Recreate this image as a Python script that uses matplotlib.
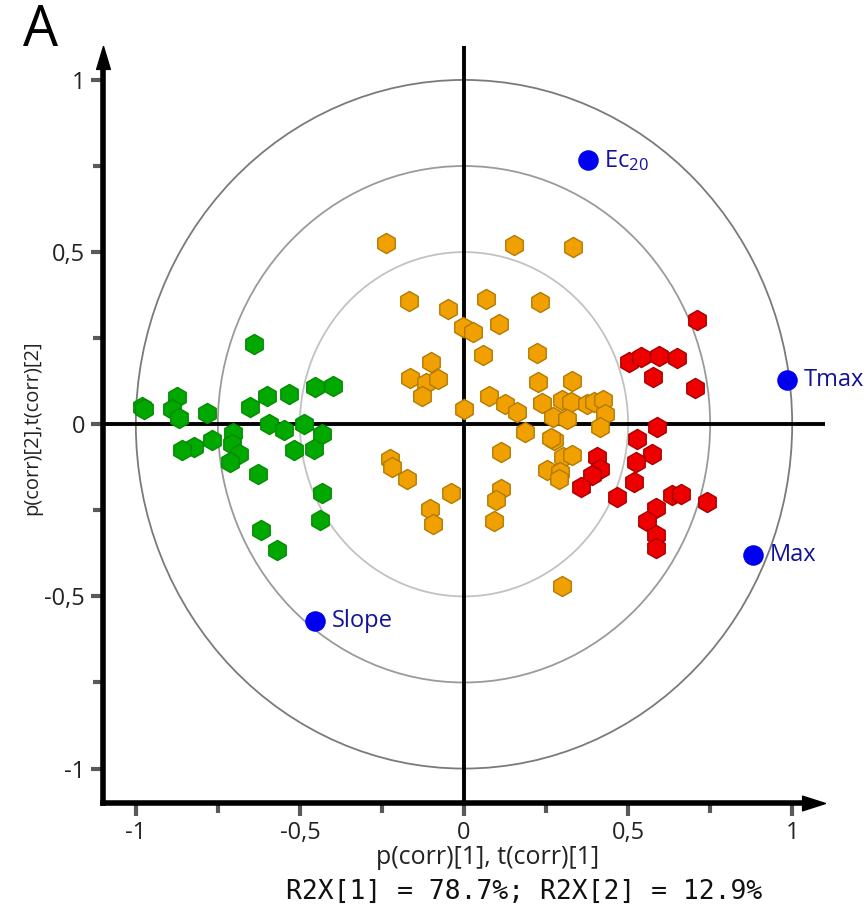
import matplotlib.pyplot as plt
from matplotlib.patches import Circle
from matplotlib.path import Path

plt.rcParams['font.family'] = ['Open Sans', 'DejaVu Sans']
plt.rcParams['mathtext.default'] = 'regular'

# scores / loadings
green_x = [-0.981, -0.974, -0.874, -0.889, -0.869, -0.783, -0.639, -0.653, -0.599, -0.534,
           -0.453, -0.399, -0.593, -0.548, -0.489, -0.433, -0.704, -0.708, -0.685, -0.714,
           -0.769, -0.823, -0.858, -0.519, -0.458, -0.629, -0.433, -0.438, -0.619, -0.569]
green_y = [0.049, 0.044, 0.078, 0.044, 0.019, 0.034, 0.233, 0.049, 0.081, 0.087,
           0.107, 0.110, 0.002, -0.017, 0.002, -0.027, -0.025, -0.056, -0.087, -0.110,
           -0.047, -0.066, -0.076, -0.076, -0.072, -0.145, -0.199, -0.279, -0.308, -0.364]

orange_x = [-0.239, 0.152, 0.332, -0.168, -0.049, 0.067, 0.233, -0.004, 0.028, 0.107,
            0.059, 0.222, -0.100, -0.164, -0.116, -0.079, -0.129, 0.001, 0.077, 0.126,
            0.162, 0.187, 0.227, 0.328, 0.237, 0.298, 0.326, 0.271, 0.314, 0.376,
            0.395, 0.423, 0.429, 0.413, 0.274, 0.265, 0.112, 0.303, 0.329, 0.252,
            0.292, 0.289, -0.224, -0.218, -0.173, -0.039, 0.112, 0.096, -0.103, 0.092,
            -0.094, 0.298]
orange_y = [0.525, 0.522, 0.516, 0.358, 0.334, 0.364, 0.355, 0.283, 0.267, 0.292,
            0.200, 0.206, 0.182, 0.135, 0.119, 0.130, 0.082, 0.045, 0.083, 0.060,
            0.035, -0.023, 0.122, 0.126, 0.063, 0.070, 0.065, 0.020, 0.015, 0.060,
            0.066, 0.070, 0.031, -0.009, -0.047, -0.041, -0.080, -0.096, -0.089, -0.132,
            -0.139, -0.159, -0.100, -0.123, -0.160, -0.199, -0.189, -0.219, -0.245, -0.281,
            -0.289, -0.470]

red_x = [0.709, 0.502, 0.538, 0.594, 0.648, 0.577, 0.704, 0.587, 0.527, 0.572,
         0.525, 0.517, 0.406, 0.414, 0.390, 0.355, 0.467, 0.634, 0.662, 0.739,
         0.584, 0.558, 0.584, 0.584]
red_y = [0.303, 0.180, 0.194, 0.197, 0.192, 0.138, 0.106, -0.009, -0.043, -0.087,
         -0.110, -0.169, -0.094, -0.129, -0.146, -0.182, -0.212, -0.205, -0.202, -0.226,
         -0.244, -0.281, -0.321, -0.360]

var_names = ['Ec$_{20}$', 'Tmax', 'Max', 'Slope']
var_x = [0.377, 0.983, 0.882, -0.453]
var_y = [0.767, 0.128, -0.381, -0.570]

circle_radii = [1.0, 0.75, 0.5]
circle_colors = ['#7a7a7a', '#9a9a9a', '#c2c2c2']

fig = plt.figure(figsize=(8.68, 9.08), dpi=100)
ax = fig.add_axes([103 / 868, 105 / 908, 722 / 868, 757.5 / 908])
ax.set_xlim(-1.1, 1.1)
ax.set_ylim(-1.1, 1.1)

for r, c in zip(circle_radii, circle_colors):
    ax.add_patch(Circle((0, 0), r, fill=False, ec=c, lw=1.3, zorder=1))

ax.axhline(0, color='k', lw=2.8, zorder=2)
ax.axvline(0, color='k', lw=2.8, zorder=2)

groups = [
    (green_x, green_y, '#00a800', '#058a05'),
    (orange_x, orange_y, '#f0a000', '#b27a00'),
    (red_x, red_y, '#ee0000', '#a80000'),
]
for gx, gy, fc, ec in groups:
    ax.scatter(gx, gy, marker='h', s=210, c=fc, edgecolors=ec, linewidths=1.0, zorder=3)

ax.scatter(var_x, var_y, s=190, c='#0000f0', zorder=4)
for name, x, y in zip(var_names, var_x, var_y):
    ax.annotate(name, (x, y), xytext=(12, 0), textcoords='offset points',
                va='center', ha='left', fontsize=17, color='#12129c', zorder=5)

# axes: left and bottom with arrowheads
for side in ['top', 'right']:
    ax.spines[side].set_visible(False)
for side in ['left', 'bottom']:
    ax.spines[side].set_linewidth(4)
ax.spines['left'].set_bounds(-1.1, 1.04)
ax.spines['bottom'].set_bounds(-1.1, 1.04)

up = Path([(0, 0), (-0.3, -1), (0.3, -1), (0, 0)])
right = Path([(0, 0), (-1, 0.32), (-1, -0.32), (0, 0)])
ax.plot(0, 1, marker=up, ms=33, color='k', transform=ax.transAxes, clip_on=False, zorder=6)
ax.plot(1, 0, marker=right, ms=33, color='k', transform=ax.transAxes, clip_on=False, zorder=6)

ticks = [-1, -0.5, 0, 0.5, 1]
labels = ['-1', '-0,5', '0', '0,5', '1']
ax.set_xticks(ticks, labels)
ax.set_yticks(ticks, labels)
ax.set_xticks([-0.75, -0.25, 0.25, 0.75], minor=True)
ax.set_yticks([-0.75, -0.25, 0.25, 0.75], minor=True)
ax.tick_params(which='both', length=9, width=3, color='0.35', labelsize=17,
               labelcolor='#222222', pad=4)
ax.tick_params(which='minor', length=7)

fig.text(32 / 868, 1 - 428 / 908, 'p(corr)[2],t(corr)[2]', rotation=90,
         ha='center', va='center', fontsize=14.5, color='#222222')
fig.text(488 / 868, 1 - 857 / 908, 'p(corr)[1], t(corr)[1]',
         ha='center', va='center', fontsize=18, color='#222222')
fig.text(524 / 868, 1 - 892 / 908, 'R2X[1] = 78.7%; R2X[2] = 12.9%',
         ha='center', va='center', fontsize=19, family='DejaVu Sans Mono', color='#111111')
fig.text(41 / 868, 1 - 32 / 908, 'A', ha='center', va='center', fontsize=40, color='k')

fig.savefig('out.png', dpi=100)
